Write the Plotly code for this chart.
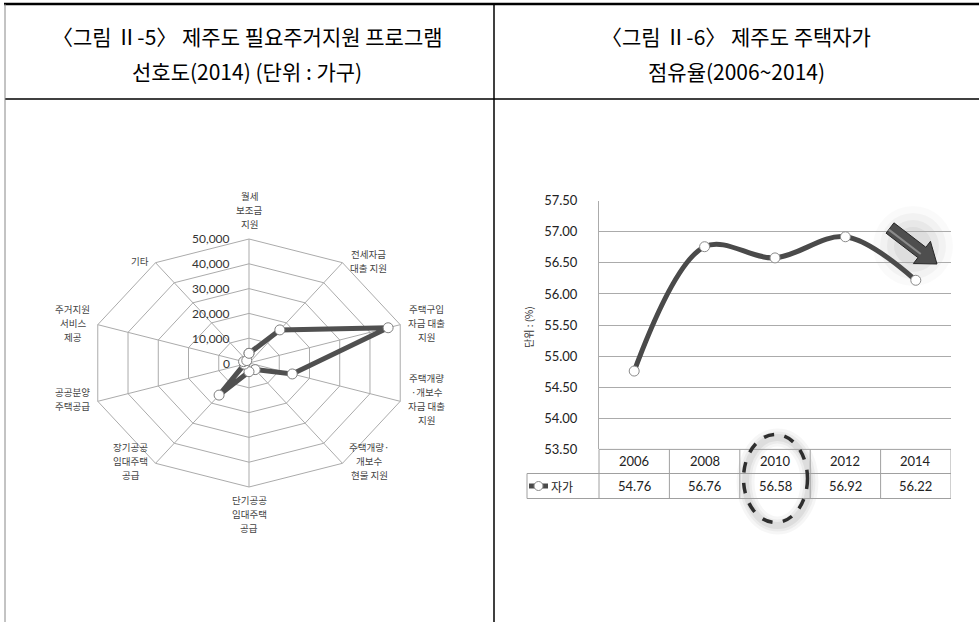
import numpy as np
import plotly.graph_objects as go

W, H = 979, 622

# ---------------- data ----------------
radar_categories = [
    "월세<br>보조금<br>지원",
    "전세자금<br>대출 지원",
    "주택구입<br>자금 대출<br>지원",
    "주택개량<br>·개보수<br>자금 대출<br>지원",
    "주택개량·<br>개보수<br>현물 지원",
    "단기공공<br>임대주택<br>공급",
    "장기공공<br>임대주택<br>공급",
    "공공분양<br>주택공급",
    "주거지원<br>서비스<br>제공",
    "기타",
]
radar_values = [3900, 16500, 46000, 14300, 3300, 3500, 16000, 1500, 1800, 1200]
radar_max = 50000
radar_ticks = [0, 10000, 20000, 30000, 40000, 50000]

years = ["2006", "2008", "2010", "2012", "2014"]
own_rate = [54.76, 56.76, 56.58, 56.92, 56.22]
series_name = "자가"
y_ticks = [53.5, 54.0, 54.5, 55.0, 55.5, 56.0, 56.5, 57.0, 57.5]

title_left = ["〈그림 Ⅱ-5〉 제주도 필요주거지원 프로그램", "선호도(2014) (단위 : 가구)"]
title_right = ["〈그림 Ⅱ-6〉 제주도 주택자가", "점유율(2006~2014)"]
y_title = "단위 : (%)"

# ---------------- helpers ----------------
def px(x):
    return x / W

def py(y):
    return 1 - y / H

KFONT = "Noto Sans CJK KR"
NFONT = "Lato"
GRID = "#ababab"
LINE = "#4a4a4a"
LFS = 9.5   # axis-label font size
LS = 14     # axis-label line spacing (px)

fig = go.Figure()
shapes = []
ann = []

def note(x, y, text, xref="paper", yref="paper", xanchor="center", yanchor="middle", **kw):
    d = dict(x=x, y=y, xref=xref, yref=yref, text=text, showarrow=False,
             xanchor=xanchor, yanchor=yanchor)
    d.update(kw)
    ann.append(d)

def text_w(s):
    w = 0.0
    for ch in s:
        if ch == "·":
            w += 0.4 * LFS
        elif ord(ch) > 0x1100:
            w += LFS
        else:
            w += 0.3 * LFS
    return w

# ---------------- radar (cartesian, stretched) ----------------
n = len(radar_categories)
theta = np.arange(n) * 2 * np.pi / n
cx, cy = 249, 363
RX, RY = 159, 124

for t in radar_ticks[1:]:
    f = t / radar_max
    xs = list(f * np.sin(theta)) + [f * np.sin(theta[0])]
    ys = list(f * np.cos(theta)) + [f * np.cos(theta[0])]
    fig.add_trace(go.Scatter(x=xs, y=ys, mode="lines", line=dict(color=GRID, width=1),
                             xaxis="x2", yaxis="y2", hoverinfo="skip", showlegend=False))
for th in theta:
    fig.add_trace(go.Scatter(x=[0, np.sin(th)], y=[0, np.cos(th)], mode="lines",
                             line=dict(color=GRID, width=1), xaxis="x2", yaxis="y2",
                             hoverinfo="skip", showlegend=False))
fr = np.array(radar_values) / radar_max
rx = list(fr * np.sin(theta)) + [fr[0] * np.sin(theta[0])]
ry = list(fr * np.cos(theta)) + [fr[0] * np.cos(theta[0])]
fig.add_trace(go.Scatter(x=rx, y=ry, mode="lines+markers",
                         line=dict(color="#505050", width=5),
                         marker=dict(size=10, color="white", line=dict(color="#808080", width=1)),
                         xaxis="x2", yaxis="y2", showlegend=False))

for t in radar_ticks:
    note(0, t / radar_max, f"{t:,}", xref="x2", yref="y2", xanchor="right", xshift=-17,
         font=dict(family=NFONT, size=12, color="#333"))

for th, lab in zip(theta, radar_categories):
    s, c = np.sin(th), np.cos(th)
    parts = lab.split("<br>")
    k = len(parts)
    half = max(text_w(p) for p in parts) / 2
    if s > 0.1:
        xs_ = 6 + half
    elif s < -0.1:
        xs_ = -6 - half
    else:
        xs_ = 0
    for j, part in enumerate(parts):
        if c > 0.9:
            ya, ys_ = "bottom", 6 + (k - 1 - j) * LS
        elif c < -0.9:
            ya, ys_ = "top", -4 - j * LS
        else:
            ya, ys_ = "middle", 2 + ((k - 1) / 2 - j) * LS
        note(s, c, part, xref="x2", yref="y2", xanchor="center", yanchor=ya, xshift=xs_, yshift=ys_,
             font=dict(family=KFONT, size=LFS, color="#444"))

# ---------------- right line chart ----------------
xi = list(range(len(years)))
fig.add_trace(go.Scatter(x=xi, y=own_rate, mode="lines+markers",
                         line=dict(color=LINE, width=5, shape="spline", smoothing=1.0),
                         marker=dict(size=10, color="white", line=dict(color="#8a8a8a", width=1)),
                         showlegend=False))

PL, PR, PT, PB = 599, 951, 200.7, 449.4
RB1, RB2 = 473.5, 498.5
LEGL = 527

tl = dict(color="#a0a0a0", width=1)
def pline(x0, y0, x1, y1, line):
    shapes.append(dict(type="line", xref="paper", yref="paper", x0=px(x0), x1=px(x1),
                       y0=py(y0), y1=py(y1), line=line))

pline(PL, PB, PR, PB, tl)
pline(LEGL, RB1, PR, RB1, tl)
pline(LEGL, RB2, PR, RB2, tl)
pline(LEGL, RB1, LEGL, RB2, tl)
pline(PL, PB, PL, RB2, tl)
for i in range(len(years)):
    shapes.append(dict(type="line", xref="x", yref="paper", x0=i + 0.5, x1=i + 0.5,
                       y0=py(PB), y1=py(RB2), line=tl))
for i, (yr, v) in enumerate(zip(years, own_rate)):
    note(i, py((PB + RB1) / 2), yr, xref="x", font=dict(family=NFONT, size=13, color="#222"))
    note(i, py((RB1 + RB2) / 2), f"{v:.2f}", xref="x", font=dict(family=NFONT, size=13, color="#222"))

# legend key
pline(529, 486, 548, 486, dict(color=LINE, width=5))
shapes.append(dict(type="circle", xref="paper", yref="paper", x0=px(534), x1=px(543),
                   y0=py(490.5), y1=py(481.5), fillcolor="white", line=dict(color="#8a8a8a", width=1)))
note(px(549), py(486), series_name, xanchor="left", font=dict(family=KFONT, size=12, color="#222"))

note(px(528), py(327), y_title, textangle=-90, font=dict(family=KFONT, size=10, color="#333"))

# soft halo behind the arrow
gx, gy = 913, 246
for r, a in [(40, 0.02), (33, 0.03), (26, 0.04), (19, 0.045)]:
    shapes.append(dict(type="circle", xref="paper", yref="paper", x0=px(gx - r), x1=px(gx + r),
                       y0=py(gy + r), y1=py(gy - r), fillcolor=f"rgba(0,0,0,{a})", line=dict(width=0),
                       layer="below"))
T = np.array([890.0, 228.0]); P = np.array([937.0, 264.0])
u = (P - T) / np.linalg.norm(P - T); nv = np.array([-u[1], u[0]])
Hb = P - 19 * u
pts = [T + 6.5 * nv, Hb + 6.5 * nv, Hb + 14 * nv, P, Hb - 14 * nv, Hb - 6.5 * nv, T - 6.5 * nv]
path = "M " + " L ".join(f"{px(p[0])},{py(p[1])}" for p in pts) + " Z"
shapes.append(dict(type="path", xref="paper", yref="paper", path=path, fillcolor="#4e4e4e",
                   line=dict(color="#262626", width=1)))
hl = [T + 2 * nv, Hb + 2 * nv]
shapes.append(dict(type="line", xref="paper", yref="paper", x0=px(hl[0][0]), y0=py(hl[0][1]),
                   x1=px(hl[1][0]), y1=py(hl[1][1]), line=dict(color="#8a8a8a", width=2)))

# halo + dashed ellipse around 2010
ecx, ecy, erx, ery = 775.5, 478.5, 32, 44
for w, a in [(18, 0.035), (12, 0.045), (7, 0.06)]:
    shapes.append(dict(type="circle", xref="paper", yref="paper",
                       x0=px(ecx - erx + 2), x1=px(ecx + erx + 2),
                       y0=py(ecy + ery + 3), y1=py(ecy - ery + 3),
                       line=dict(color=f"rgba(0,0,0,{a})", width=w), layer="below"))
shapes.append(dict(type="circle", xref="paper", yref="paper", x0=px(ecx - erx), x1=px(ecx + erx),
                   y0=py(ecy + ery), y1=py(ecy - ery), line=dict(color="#2e2e2e", width=3.5, dash="dash")))

# ---------------- frame / headers ----------------
bl = dict(color="black", width=1.5)
pline(4, 4, W, 4, dict(color="black", width=2.5))
pline(5, 99, W, 99, bl)
pline(494, 4, 494, H, bl)
pline(5, 4, 5, H, dict(color="#888", width=1))

for (xc, lines) in [(247, title_left), (736, title_right)]:
    for yy, t in zip([36, 71], lines):
        note(px(xc), py(yy), t, font=dict(family=KFONT, size=21, color="black"))

fig.update_layout(
    template="none",
    width=W, height=H, autosize=False, margin=dict(l=0, r=0, t=0, b=0, pad=0),
    paper_bgcolor="white", plot_bgcolor="rgba(0,0,0,0)",
    showlegend=False,
    xaxis=dict(domain=[px(PL), px(PR)], range=[-0.5, 4.5], showgrid=False, zeroline=False,
               showticklabels=False, showline=False, ticks="", automargin=False),
    yaxis=dict(domain=[py(PB), py(PT)], range=[53.5, 57.5], tickvals=y_ticks, tickformat=".2f",
               showgrid=True, gridcolor=GRID, gridwidth=1, zeroline=False, showline=True,
               linecolor=GRID, linewidth=1, ticks="", ticklabelstandoff=18, automargin=False,
               tickfont=dict(family=NFONT, size=13, color="#222")),
    xaxis2=dict(domain=[px(6), px(493)], range=[(6 - cx) / RX, (493 - cx) / RX], visible=False,
                anchor="y2", automargin=False),
    yaxis2=dict(domain=[0, py(100)], range=[-(622 - cy) / RY, (cy - 100) / RY], visible=False,
                anchor="x2", automargin=False),
    shapes=shapes, annotations=ann,
)

fig.write_html("out.html")
